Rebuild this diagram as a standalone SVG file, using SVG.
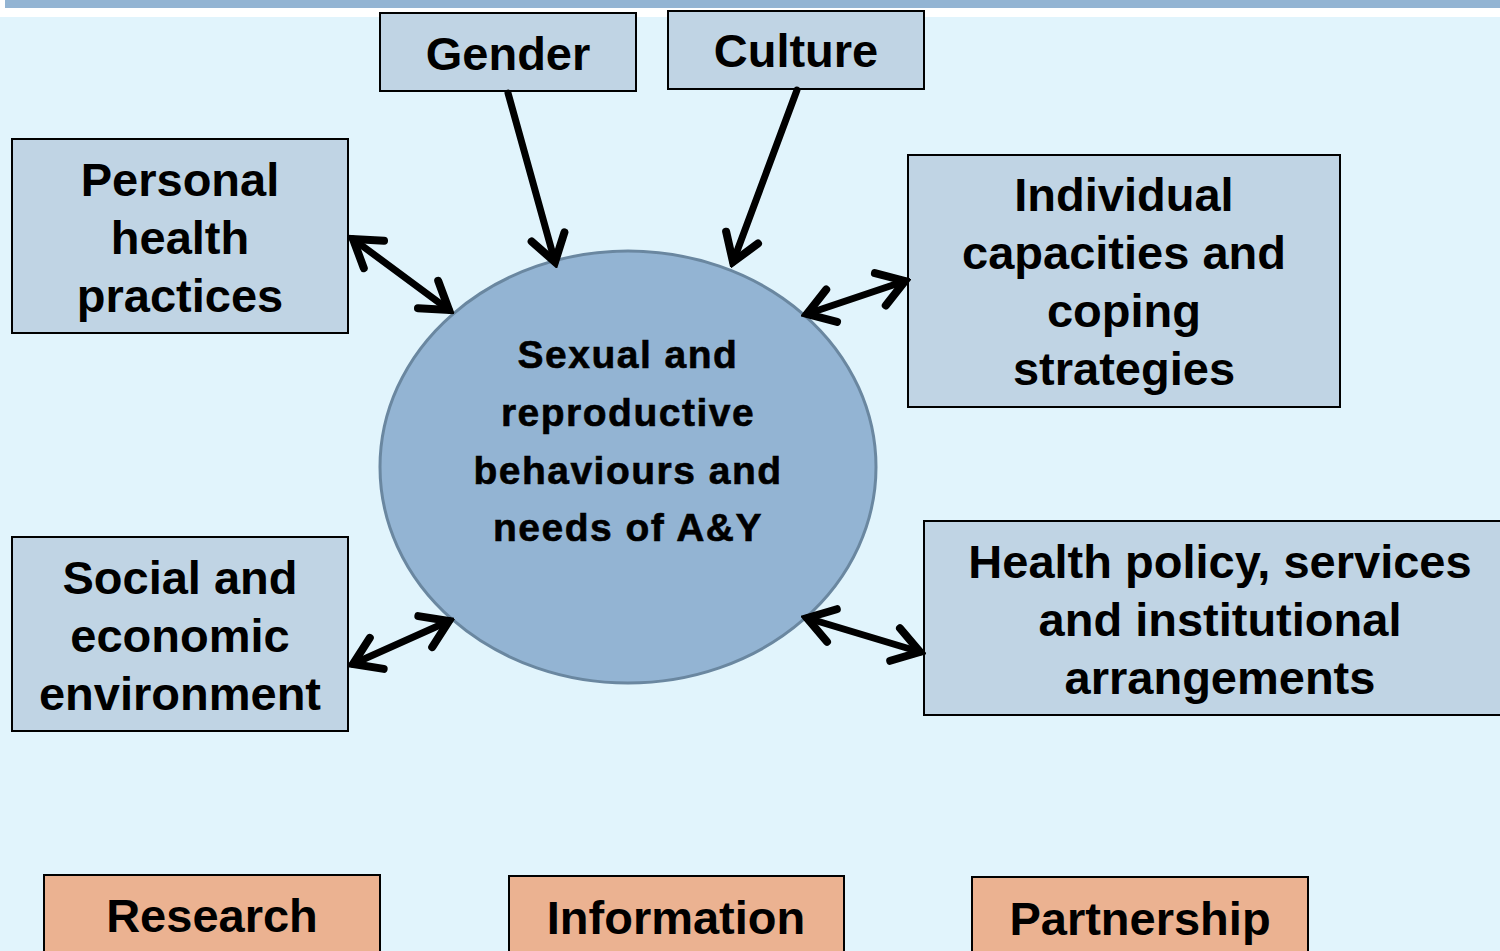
<svg xmlns="http://www.w3.org/2000/svg" width="1500" height="951" viewBox="0 0 1500 951">
<defs>
<style>
.box{fill:#C0D4E4;stroke:#000;stroke-width:2}
.obox{fill:#EBB291;stroke:#000;stroke-width:2}
.t{font-family:"Liberation Sans",Arial,sans-serif;font-weight:bold;font-size:47px;fill:#000;text-anchor:middle}
.ct{font-family:"Liberation Sans",Arial,sans-serif;font-weight:bold;font-size:39px;fill:#000;text-anchor:middle;letter-spacing:1.5px;stroke:#000;stroke-width:0.6}
.c{fill:none;stroke:#000;stroke-width:7;stroke-linecap:round}
</style>
<marker id="ah" viewBox="-34 -24 40 48" refX="0" refY="0" markerWidth="40" markerHeight="48" markerUnits="userSpaceOnUse" orient="auto-start-reverse">
<path d="M-26,-17 L0,0 L-26,17" fill="none" stroke="#000" stroke-width="8" stroke-linecap="round" stroke-linejoin="miter"/>
</marker>
</defs>
<rect x="0" y="0" width="1500" height="951" fill="#FFFFFF"/>
<rect x="5" y="0" width="1495" height="8" fill="#93B4D3"/>
<rect x="0" y="17" width="1500" height="934" fill="#E1F4FC"/>

<g id="center">
<ellipse cx="628" cy="467" rx="248" ry="216" fill="#93B4D3" stroke="#6A87A0" stroke-width="3"/>
<text class="ct" x="628" y="368">Sexual and</text>
<text class="ct" x="628" y="426">reproductive</text>
<text class="ct" x="628" y="484">behaviours and</text>
<text class="ct" x="628" y="541">needs of  A&amp;Y</text>
</g>

<g id="gender">
<rect class="box" x="380" y="13" width="256" height="78"/>
<text class="t" x="508" y="70">Gender</text>
</g>
<g id="culture">
<rect class="box" x="668" y="11" width="256" height="78"/>
<text class="t" x="796" y="67">Culture</text>
</g>
<g id="personal">
<rect class="box" x="12" y="139" width="336" height="194"/>
<text class="t" x="180" y="196">Personal</text>
<text class="t" x="180" y="254">health</text>
<text class="t" x="180" y="312">practices</text>
</g>
<g id="individual">
<rect class="box" x="908" y="155" width="432" height="252"/>
<text class="t" x="1124" y="211">Individual</text>
<text class="t" x="1124" y="269">capacities and</text>
<text class="t" x="1124" y="327">coping</text>
<text class="t" x="1124" y="385">strategies</text>
</g>
<g id="social">
<rect class="box" x="12" y="537" width="336" height="194"/>
<text class="t" x="180" y="594">Social and</text>
<text class="t" x="180" y="652">economic</text>
<text class="t" x="180" y="710">environment</text>
</g>
<g id="health">
<rect class="box" x="924" y="521" width="590" height="194"/>
<text class="t" x="1220" y="578">Health policy, services</text>
<text class="t" x="1220" y="636">and institutional</text>
<text class="t" x="1220" y="694">arrangements</text>
</g>
<g id="research">
<rect class="obox" x="44" y="875" width="336" height="90"/>
<text class="t" x="212" y="932">Research</text>
</g>
<g id="information">
<rect class="obox" x="509" y="876" width="335" height="90"/>
<text class="t" x="676" y="934">Information</text>
</g>
<g id="partnership">
<rect class="obox" x="972" y="877" width="336" height="90"/>
<text class="t" x="1140" y="935">Partnership</text>
</g>

<g id="connectors">
<line class="c" x1="508" y1="93" x2="555" y2="262" marker-end="url(#ah)"/>
<line class="c" x1="797" y1="90" x2="733" y2="262" marker-end="url(#ah)"/>
<line class="c" x1="353" y1="239" x2="449" y2="310" marker-start="url(#ah)" marker-end="url(#ah)"/>
<line class="c" x1="807" y1="314" x2="905" y2="281" marker-start="url(#ah)" marker-end="url(#ah)"/>
<line class="c" x1="353" y1="664" x2="449" y2="621" marker-start="url(#ah)" marker-end="url(#ah)"/>
<line class="c" x1="807" y1="618" x2="920" y2="652" marker-start="url(#ah)" marker-end="url(#ah)"/>
</g>
</svg>
